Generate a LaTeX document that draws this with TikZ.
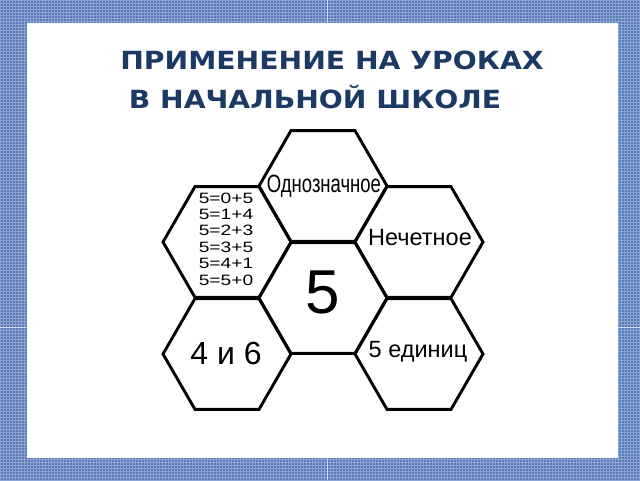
\documentclass[tikz,border=0pt]{standalone}
\usepackage{fontspec}
\setmainfont{Liberation Sans}
\newfontfamily\titlefont{DejaVu Sans}
\usetikzlibrary{patterns}
\definecolor{frameblue}{RGB}{90,120,182}
\definecolor{framelight}{RGB}{140,165,215}
\definecolor{seam}{RGB}{205,215,238}
\definecolor{titleblue}{RGB}{28,56,100}
\tikzset{
  hexline/.style={line width=2.9pt, line join=miter, draw=black},
  titletext/.style={font=\titlefont\bfseries\fontsize{25}{25}\selectfont, text=titleblue, inner sep=0pt, xscale=1.13},
  hextext/.style={inner sep=0pt, text=black},
}
\newcommand\hexat[1]{\draw[hexline] (#1) ++(0:64) -- ++(120:64) -- ++(180:64) -- ++(240:64) -- ++(300:64) -- ++(0:64) -- cycle;}
\begin{document}
\begin{tikzpicture}[x=1pt,y=-1pt]
\useasboundingbox (0,0) rectangle (640,480);
% textured frame
\fill[frameblue] (0,0) rectangle (640,480);
\fill[pattern=grid, pattern color=framelight] (0,0) rectangle (640,480);
\draw[seam, line width=1pt] (327,0) -- (327,23);
\draw[seam, line width=1pt] (327,458) -- (327,480);
\draw[seam, line width=1pt] (0,327) -- (27,327);
\draw[seam, line width=1pt] (618,327) -- (640,327);
\fill[white] (27,23) rectangle (618,458);
% title
\node[titletext] (t1) at (332,60) {ПРИМЕНЕНИЕ НА УРОКАХ};
\node[titletext] (t2) at (315,97) {В НАЧАЛЬНОЙ ШКОЛЕ};
% hexagon centres
\coordinate (cT) at (323,186);
\coordinate (cL) at (227,242);
\coordinate (cR) at (419,242);
\coordinate (cC) at (323,298);
\coordinate (cBL) at (227,354);
\coordinate (cBR) at (419,354);
\hexat{cT}
\hexat{cL}
\hexat{cR}
\hexat{cC}
\hexat{cBL}
\hexat{cBR}
% texts
\node[hextext, font=\fontsize{25}{25}\selectfont, xscale=0.74] (a) at (324,186) {Однозначное};
\node[hextext, font=\fontsize{15}{16.4}\selectfont, xscale=1.28, align=left] (b) at (226,239) {5=0+5\\5=1+4\\5=2+3\\5=3+5\\5=4+1\\5=5+0};
\node[hextext, font=\fontsize{23.5}{23.5}\selectfont] (c) at (420,238) {Нечетное};
\node[hextext, font=\fontsize{62}{62}\selectfont] (d) at (323,292) {5};
\node[hextext, font=\fontsize{32}{32}\selectfont] (e) at (226,353) {4 и 6};
\node[hextext, font=\fontsize{23.5}{23.5}\selectfont] (f) at (418,352) {5 единиц};
\end{tikzpicture}
\end{document}
